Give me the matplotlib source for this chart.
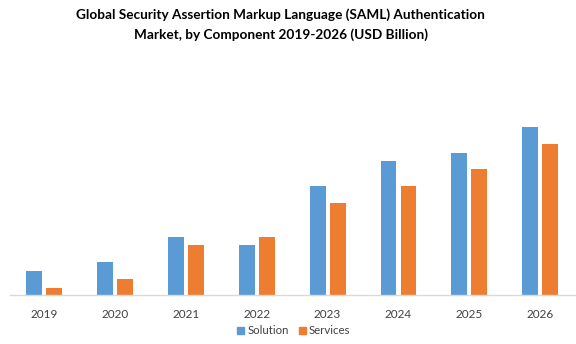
import numpy as np
import matplotlib.pyplot as plt
from matplotlib.patches import Patch

years = ["2019", "2020", "2021", "2022", "2023", "2024", "2025", "2026"]
solution = [2.4, 3.3, 5.8, 5.0, 10.9, 13.4, 14.2, 16.8]
services = [0.7, 1.6, 5.0, 5.8, 9.2, 10.9, 12.6, 15.1]

plt.rcParams['font.family'] = ['Lato', 'DejaVu Sans']

fig = plt.figure(figsize=(5.76, 3.44), dpi=100)
ax = fig.add_axes([10 / 576, 49 / 344, 565 / 576, 190 / 344])

x = np.arange(len(years))
w = 0.225
ax.bar(x - 0.141, solution, w, color='#5B9BD5', label='Solution')
ax.bar(x + 0.141, services, w, color='#ED7D31', label='Services')

ax.set_xlim(-0.48, 7.49)
ax.set_ylim(0, 19.0)
ax.set_xticks(x)
ax.set_xticklabels(years, fontsize=8.5, color='#404040')
ax.tick_params(axis='x', length=0, pad=10)
ax.set_yticks([])
for s in ['top', 'left', 'right']:
    ax.spines[s].set_visible(False)
ax.spines['bottom'].set_color('#D9D9D9')
ax.spines['bottom'].set_linewidth(1)

fig.text(0.487, 0.975, "Global Security Assertion Markup Language (SAML) Authentication\nMarket, by Component 2019-2026 (USD Billion)",
         ha='center', va='top', fontsize=9.8, fontweight='bold', linespacing=1.7, color='#000000')

handles = [Patch(color='#5B9BD5', label='Solution'), Patch(color='#ED7D31', label='Services')]
fig.legend(handles=handles, loc='center', bbox_to_anchor=(0.51, 0.038), ncol=2, frameon=False,
           fontsize=8.2, handlelength=0.6, handleheight=0.6, handletextpad=0.3, columnspacing=0.9,
           labelcolor='#404040')

fig.savefig("out.png", dpi=100)
